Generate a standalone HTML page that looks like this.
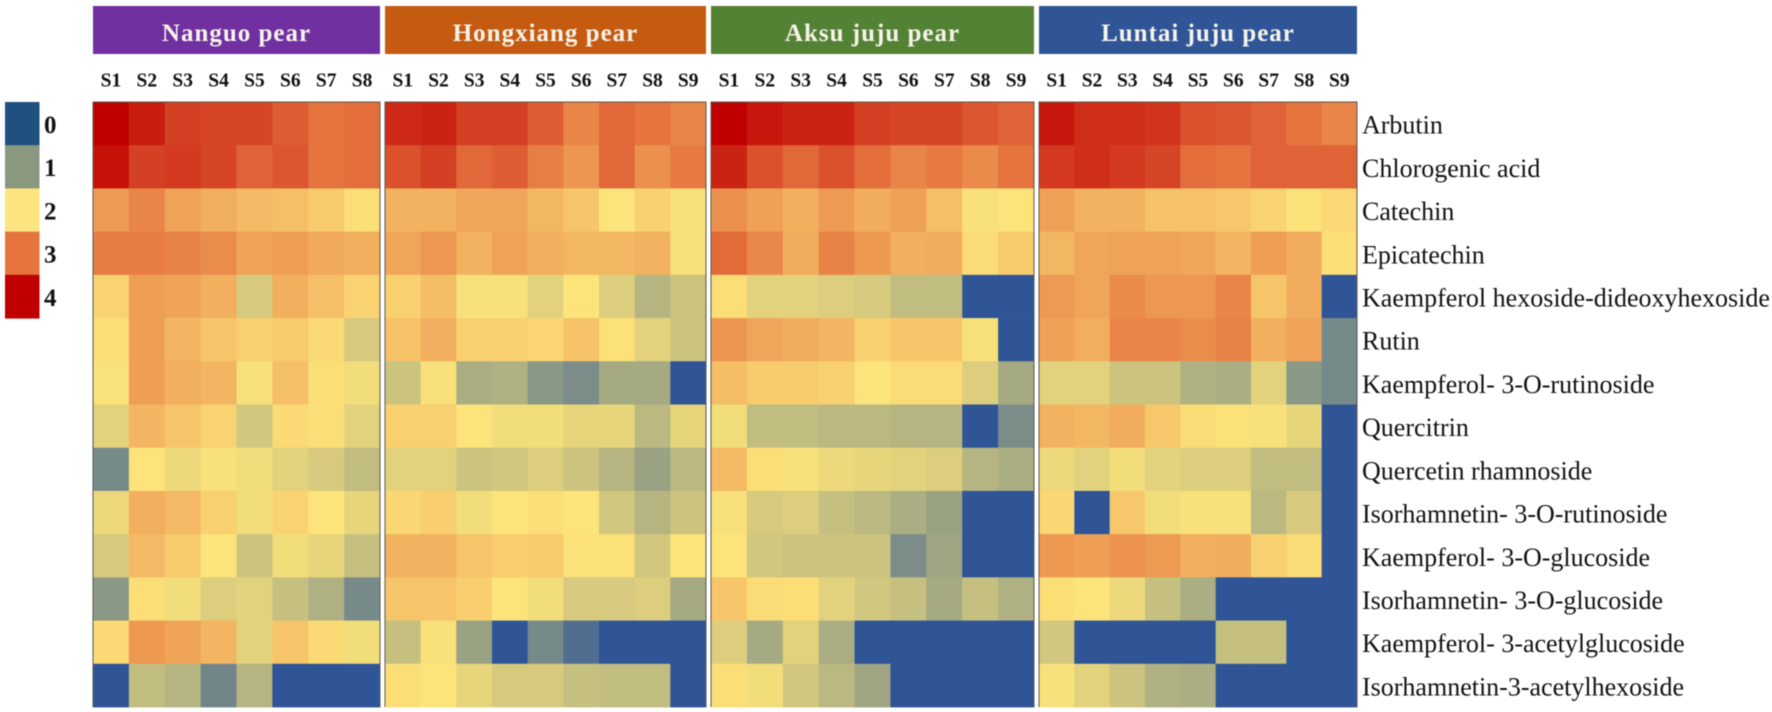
<!DOCTYPE html>
<html lang="en">
<head>
<meta charset="utf-8">
<title>Pear phenolic compounds heatmap</title>
<style>
html,body{margin:0;padding:0;background:#fff;width:1772px;height:712px;overflow:hidden}
#chart{display:block;filter:blur(.45px)}
text{font-family:"Liberation Serif",serif}
</style>
</head>
<body>
<svg id="chart" xmlns="http://www.w3.org/2000/svg" width="1772" height="712" viewBox="0 0 1772 712"></svg>
<script>
const compounds = ["Arbutin","Chlorogenic acid","Catechin","Epicatechin","Kaempferol hexoside-dideoxyhexoside","Rutin","Kaempferol- 3-O-rutinoside","Quercitrin","Quercetin rhamnoside","Isorhamnetin- 3-O-rutinoside","Kaempferol- 3-O-glucoside","Isorhamnetin- 3-O-glucoside","Kaempferol- 3-acetylglucoside","Isorhamnetin-3-acetylhexoside"];
const cultivars = ["Nanguo pear","Hongxiang pear","Aksu juju pear","Luntai juju pear"];
const legendTicks = [0,1,2,3,4];
const samplesEight = ["S1","S2","S3","S4","S5","S6","S7","S8"];
const samplesNine = ["S1","S2","S3","S4","S5","S6","S7","S8","S9"];
const nanguoValues = [
[4.0,3.75,3.45,3.4,3.4,3.2,3.0,3.05],
[3.85,3.45,3.5,3.4,3.15,3.25,3.0,3.05],
[2.65,2.85,2.58,2.48,2.38,2.33,2.23,2.05],
[2.92,2.92,2.87,2.78,2.57,2.62,2.52,2.47],
[2.15,2.62,2.57,2.47,1.65,2.47,2.33,2.15],
[2.05,2.62,2.42,2.28,2.18,2.23,2.1,1.65],
[1.97,2.62,2.47,2.42,1.95,2.33,2.05,1.9],
[1.75,2.42,2.28,2.15,1.6,2.1,2.05,1.75],
[0.75,2.0,1.85,1.95,1.9,1.75,1.65,1.45],
[1.85,2.47,2.38,2.18,1.9,2.15,2.0,1.8],
[1.65,2.38,2.23,2.0,1.55,1.9,1.8,1.5],
[0.95,2.05,1.9,1.7,1.75,1.5,1.3,0.75],
[2.1,2.67,2.57,2.42,1.75,2.28,2.1,1.9],
[0,1.45,1.35,0.7,1.35,0,0,0]
];
const hongxiangValues = [
[3.65,3.7,3.45,3.45,3.2,2.85,3.1,3.0,2.85],
[3.3,3.45,3.1,3.2,2.9,2.7,3.1,2.75,2.95],
[2.45,2.45,2.55,2.55,2.4,2.28,2.0,2.17,1.95],
[2.55,2.68,2.45,2.58,2.47,2.4,2.4,2.45,1.95],
[2.18,2.35,1.95,1.95,1.75,2.0,1.7,1.35,1.55],
[2.3,2.48,2.18,2.18,2.13,2.3,2.03,1.75,1.55],
[1.55,1.95,1.25,1.3,0.95,0.8,1.2,1.2,0],
[2.18,2.18,2.0,1.9,1.9,1.8,1.8,1.4,1.8],
[1.75,1.75,1.55,1.6,1.7,1.55,1.35,1.1,1.4],
[2.12,2.2,1.9,2.0,2.05,2.0,1.6,1.35,1.55],
[2.45,2.45,2.28,2.2,2.22,2.03,2.03,1.6,2.0],
[2.28,2.28,2.2,2.0,1.9,1.65,1.65,1.7,1.2],
[1.5,1.95,1.1,0,0.75,0.35,0,0,0],
[2.05,2.0,1.8,1.65,1.65,1.5,1.45,1.45,0]
];
const aksuValues = [
[4.0,3.8,3.7,3.7,3.45,3.4,3.4,3.25,3.15],
[3.7,3.3,3.1,3.3,3.05,2.85,2.95,2.8,3.0],
[2.75,2.6,2.47,2.65,2.5,2.6,2.33,1.95,2.0],
[3.08,2.82,2.5,2.87,2.67,2.47,2.5,2.08,2.22],
[2.05,1.75,1.75,1.7,1.65,1.45,1.45,0,0],
[2.7,2.55,2.5,2.42,2.18,2.27,2.27,1.95,0],
[2.35,2.22,2.22,2.18,2.0,2.08,2.08,1.7,1.2],
[1.9,1.45,1.45,1.4,1.4,1.35,1.35,0,0.8],
[2.37,2.05,1.95,1.85,1.8,1.75,1.7,1.35,1.25],
[1.95,1.65,1.7,1.5,1.4,1.25,1.1,0,0],
[2.0,1.6,1.55,1.55,1.55,0.8,1.15,0,0],
[2.27,2.08,2.05,1.75,1.6,1.5,1.2,1.5,1.3],
[1.7,1.2,1.75,1.25,0,0,0,0,0],
[2.05,1.9,1.6,1.4,1.15,0,0,0,0]
];
const luntaiValues = [
[3.8,3.6,3.6,3.55,3.3,3.25,3.15,3.0,2.85],
[3.5,3.6,3.5,3.4,3.05,3.0,3.15,3.15,3.15],
[2.6,2.45,2.45,2.3,2.3,2.25,2.15,2.03,2.1],
[2.4,2.55,2.58,2.58,2.55,2.42,2.62,2.5,2.05],
[2.65,2.55,2.8,2.68,2.68,2.85,2.28,2.5,0],
[2.6,2.48,2.85,2.85,2.78,2.88,2.47,2.58,0.75],
[1.75,1.75,1.55,1.55,1.3,1.25,1.75,0.95,0.75],
[2.45,2.4,2.5,2.25,2.08,2.03,1.95,1.8,0],
[1.85,1.75,1.9,1.75,1.7,1.7,1.45,1.45,0],
[2.12,0,2.25,1.9,1.95,1.95,1.4,1.65,0],
[2.67,2.62,2.72,2.66,2.47,2.5,2.18,2.08,0],
[2.05,2.0,1.85,1.5,1.25,0,0,0,0],
[1.6,0,0,0,0,1.5,1.5,0,0],
[1.95,1.75,1.55,1.3,1.25,0,0,0,0]
];
const stopColors = [[47,85,151],[143,155,133],[253,228,122],[229,116,63],[192,0,0]];
const legendColors = ["#1f5080","#8a9880","#fde47f","#e5743f","#c00000"];

const SVG_NS = "http://www.w3.org/2000/svg";
const svg = document.getElementById("chart");
const top0 = 102, bottom0 = 707;
const panels = [
  {x0:93,  x1:380,  fill:"#7030a0", samples:samplesEight, values:nanguoValues},
  {x0:385, x1:706,  fill:"#c55a11", samples:samplesNine,  values:hongxiangValues},
  {x0:711, x1:1034, fill:"#548235", samples:samplesNine,  values:aksuValues},
  {x0:1039,x1:1357, fill:"#2f5597", samples:samplesNine,  values:luntaiValues}
];
function rowY(i){ return top0 + i * (bottom0 - top0) / compounds.length; }
function colX(p, j){ return p.x0 + j * (p.x1 - p.x0) / p.samples.length; }
function colorOf(v){
  const c = Math.max(0, Math.min(4, v));
  const lo = Math.min(3, Math.floor(c)), t = c - lo;
  const a = stopColors[lo], b = stopColors[lo + 1];
  const ch = [0,1,2].map(k => Math.round(a[k] + (b[k] - a[k]) * t));
  return "rgb(" + ch.join(",") + ")";
}
function mk(tag, attrs, text){
  const el = document.createElementNS(SVG_NS, tag);
  for (const k in attrs) el.setAttribute(k, attrs[k]);
  if (text !== undefined) el.textContent = text;
  svg.appendChild(el);
  return el;
}

legendTicks.forEach((t, i) => {
  const swatch = mk("rect", {x:5, y:rowY(i), width:34.5, height:rowY(i+1)-rowY(i)+0.5, fill:legendColors[i]});
  
  
  const lab = mk("text", {x:44, y:rowY(i)+31, "font-size":25, "font-weight":"bold", fill:"#111"}, String(t));
  
  
});

panels.forEach((p, pi) => {
  const header = mk("rect", {x:p.x0, y:6, width:p.x1-p.x0, height:48, fill:p.fill});
  
  
  const title = mk("text", {x:(p.x0+p.x1)/2, y:41, "text-anchor":"middle", "font-size":25, "font-weight":"bold", "letter-spacing":"1px", fill:"#f6f3ea"}, cultivars[pi]);
  
  
  p.samples.forEach((s, j) => {
    const lab = mk("text", {x:colX(p,j+0.5), y:86.5, "text-anchor":"middle", "font-size":19.5, "font-weight":"bold", fill:"#111"}, s);
    
    
  });
  p.values.forEach((row, i) => {
    row.forEach((v, j) => {
      const cell = mk("rect", {x:colX(p,j), y:rowY(i), width:colX(p,j+1)-colX(p,j)+0.4, height:rowY(i+1)-rowY(i)+0.4, fill:colorOf(v)});
      
      
    });
  });
  const frame = mk("path", {d:"M"+p.x0+" "+bottom0+"V"+top0+"H"+p.x1+"V"+bottom0, fill:"none", stroke:"#5a5a50", "stroke-width":1});
  
  
});

compounds.forEach((c, i) => {
  const lab = mk("text", {x:1362, y:rowY(i+0.5)+10, "font-size":26, fill:"#111"}, c);
  
  
});
</script>
</body>
</html>
